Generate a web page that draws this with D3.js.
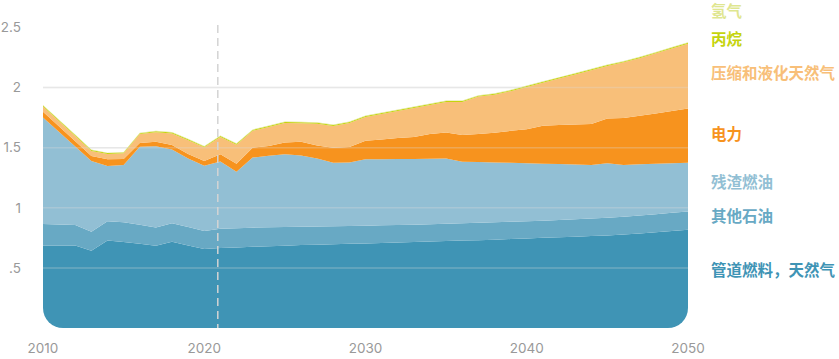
<!DOCTYPE html>
<html>
<head>
<meta charset="utf-8">
<script src="https://cdn.jsdelivr.net/npm/d3@7"></script>
<style>
  html, body { margin: 0; padding: 0; background: #fff; }
  #chart { width: 839px; height: 359px; }
  .tick-label { font-family: Inter, "Open Sans", sans-serif; font-size: 13.5px; fill: #999; }
  .series-label { font-family: "Noto Sans CJK SC", sans-serif; font-size: 15.5px; font-weight: 700; }
</style>
</head>
<body>
<div id="chart"></div>
<script>
// years 2010 .. 2050
const years = d3.range(2010, 2051);

// stack order: bottom -> top
const seriesNames = ['管道燃料，天然气', '其他石油', '残渣燃油', '电力', '压缩和液化天然气', '丙烷', '氢气'];
const seriesColors = ['#3f94b5', '#68a9c4', '#92bfd4', '#f7931e', '#f8bf79', '#c5d40d', '#dfe690'];

const pipelineGas = [0.687, 0.687, 0.687, 0.643, 0.728, 0.715, 0.700, 0.684, 0.717, 0.687,
  0.657, 0.665, 0.670, 0.675, 0.680, 0.685, 0.690, 0.693, 0.697, 0.700,
  0.703, 0.707, 0.711, 0.715, 0.719, 0.723, 0.727, 0.731, 0.735, 0.740,
  0.745, 0.750, 0.755, 0.760, 0.765, 0.770, 0.777, 0.786, 0.796, 0.806, 0.817];
const otherPetroleum = [0.179, 0.174, 0.169, 0.157, 0.161, 0.165, 0.160, 0.152, 0.155, 0.153,
  0.151, 0.160, 0.160, 0.160, 0.158, 0.155, 0.153, 0.152, 0.150, 0.149,
  0.148, 0.147, 0.146, 0.145, 0.145, 0.145, 0.145, 0.145, 0.145, 0.144,
  0.143, 0.143, 0.143, 0.144, 0.145, 0.147, 0.148, 0.149, 0.150, 0.152, 0.153];
const residualFuel = [0.886, 0.769, 0.654, 0.590, 0.458, 0.476, 0.647, 0.677, 0.614, 0.570,
  0.542, 0.560, 0.470, 0.583, 0.594, 0.606, 0.592, 0.565, 0.528, 0.527,
  0.552, 0.550, 0.548, 0.546, 0.544, 0.543, 0.511, 0.504, 0.497, 0.490,
  0.482, 0.474, 0.466, 0.456, 0.446, 0.453, 0.432, 0.427, 0.421, 0.413, 0.405];
const electricity = [0.048, 0.047, 0.043, 0.040, 0.056, 0.049, 0.033, 0.036, 0.036, 0.037,
  0.040, 0.060, 0.066, 0.082, 0.083, 0.097, 0.115, 0.108, 0.125, 0.129,
  0.154, 0.164, 0.175, 0.184, 0.205, 0.216, 0.222, 0.235, 0.248, 0.266,
  0.284, 0.316, 0.324, 0.334, 0.342, 0.373, 0.391, 0.403, 0.418, 0.434, 0.451];
const cngLng = [0.043, 0.043, 0.044, 0.042, 0.044, 0.048, 0.073, 0.080, 0.096, 0.116,
  0.113, 0.145, 0.159, 0.140, 0.158, 0.162, 0.154, 0.182, 0.180, 0.201,
  0.199, 0.212, 0.225, 0.240, 0.242, 0.253, 0.275, 0.310, 0.315, 0.330,
  0.351, 0.357, 0.387, 0.416, 0.447, 0.437, 0.462, 0.480, 0.500, 0.520, 0.539];
const propane = [0.008, 0.008, 0.008, 0.008, 0.008, 0.008, 0.008, 0.008, 0.008, 0.008,
  0.008, 0.008, 0.008, 0.008, 0.008, 0.008, 0.008, 0.008, 0.008, 0.008,
  0.008, 0.008, 0.008, 0.008, 0.008, 0.008, 0.008, 0.008, 0.008, 0.008,
  0.008, 0.008, 0.008, 0.008, 0.008, 0.008, 0.008, 0.008, 0.008, 0.008, 0.008];
const hydrogen = [0.004, 0.004, 0.004, 0.004, 0.004, 0.004, 0.004, 0.004, 0.004, 0.004,
  0.004, 0.004, 0.004, 0.004, 0.004, 0.004, 0.004, 0.004, 0.004, 0.004,
  0.004, 0.004, 0.004, 0.004, 0.004, 0.004, 0.004, 0.004, 0.004, 0.004,
  0.004, 0.004, 0.004, 0.004, 0.004, 0.004, 0.004, 0.004, 0.004, 0.004, 0.004];

const yTicks = [0.5, 1, 1.5, 2, 2.5];
const yTickLabels = ['.5', '1', '1.5', '2', '2.5'];
const xTicks = [2010, 2020, 2030, 2040, 2050];
const projectionStart = 2020.84; // dashed marker

// label y (value units), hand placed like the original
const labelValues = [0.48, 0.925, 1.21, 1.61, 2.12, 2.40, 2.63];

const seriesValues = [pipelineGas, otherPetroleum, residualFuel, electricity, cngLng, propane, hydrogen];
const rows = years.map((yr, i) => {
  const row = { year: yr };
  seriesNames.forEach((name, k) => { row[name] = seriesValues[k][i]; });
  return row;
});

const width = 839, height = 359;
const plotLeft = 43, plotRight = 688, plotTop = 27.5, plotBottom = 328;
const cornerR = 20;

const svg = d3.select('#chart').append('svg')
  .attr('width', width)
  .attr('height', height)
  .attr('viewBox', `0 0 ${width} ${height}`);

const x = d3.scaleLinear().domain([2010, 2050]).range([plotLeft, plotRight]);
const y = d3.scaleLinear().domain([0, 2.5]).range([plotBottom, plotTop]);

// clip with rounded bottom corners
const clipD = `M${plotLeft},0 L${plotRight},0 L${plotRight},${plotBottom - cornerR} ` +
  `A${cornerR},${cornerR} 0 0 1 ${plotRight - cornerR},${plotBottom} L${plotLeft + cornerR},${plotBottom} ` +
  `A${cornerR},${cornerR} 0 0 1 ${plotLeft},${plotBottom - cornerR} Z`;
svg.append('defs').append('clipPath').attr('id', 'plot-clip')
  .append('path').attr('d', clipD);

// grid behind (visible on white)
const gridBack = svg.append('g');
gridBack.selectAll('line').data(yTicks.filter(d => d < 2.5)).enter().append('line')
  .attr('x1', plotLeft).attr('x2', plotRight)
  .attr('y1', d => y(d)).attr('y2', d => y(d))
  .attr('stroke', '#ececec').attr('stroke-width', 1.5);

const stack = d3.stack().keys(seriesNames);
const layers = stack(rows);

const area = d3.area()
  .x(d => x(d.data.year))
  .y0(d => y(d[0]))
  .y1(d => y(d[1]));

const plot = svg.append('g').attr('clip-path', 'url(#plot-clip)');
plot.selectAll('path.layer').data(layers).enter().append('path')
  .attr('class', 'layer')
  .attr('d', area)
  .attr('fill', (d, i) => seriesColors[i]);

// grid on top of the areas, faint
plot.append('g').selectAll('line').data(yTicks.filter(d => d < 2.5)).enter().append('line')
  .attr('x1', plotLeft).attr('x2', plotRight)
  .attr('y1', d => y(d)).attr('y2', d => y(d))
  .attr('stroke', '#dcdcdc').attr('stroke-opacity', 0.3).attr('stroke-width', 1.5);

// dashed projection marker
svg.append('line')
  .attr('x1', x(projectionStart)).attr('x2', x(projectionStart))
  .attr('y1', 25).attr('y2', plotBottom)
  .attr('stroke', '#d4d4d4')
  .attr('stroke-width', 1.5)
  .attr('stroke-dasharray', '8,5');

// y tick labels
svg.append('g').selectAll('text').data(yTicks).enter().append('text')
  .attr('class', 'tick-label')
  .attr('x', 21)
  .attr('y', d => y(d))
  .attr('dy', '0.35em')
  .attr('text-anchor', 'end')
  .text((d, i) => yTickLabels[i]);

// x tick labels
svg.append('g').selectAll('text').data(xTicks).enter().append('text')
  .attr('class', 'tick-label')
  .attr('x', d => x(d))
  .attr('y', 348)
  .attr('dy', '0.35em')
  .attr('text-anchor', 'middle')
  .text(d => d);

// series labels on the right
svg.append('g').selectAll('text').data(seriesNames).enter().append('text')
  .attr('class', 'series-label')
  .attr('x', 711)
  .attr('y', (d, i) => y(labelValues[i]))
  .attr('dy', '0.35em')
  .attr('fill', (d, i) => seriesColors[i])
  .text(d => d);
</script>
</body>
</html>
